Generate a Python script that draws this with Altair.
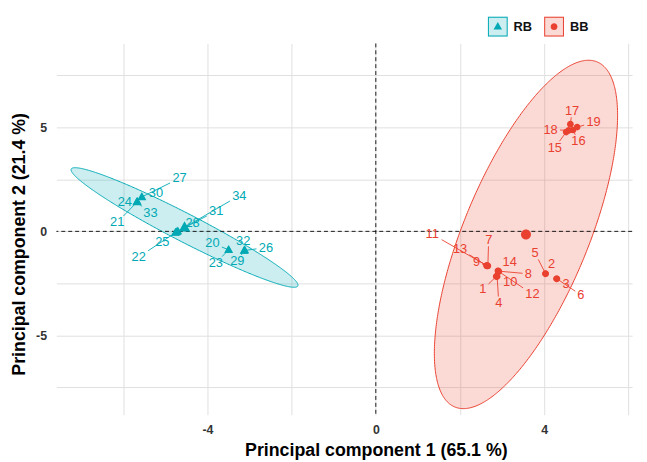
import altair as alt
import numpy as np
import pandas as pd

# ---------------- data ----------------
ids_bb = [str(i) for i in range(1, 20)]
pc1_bb = [2.86, 4.03, 4.29, 2.88, 4.03, 4.30, 2.66, 2.91, 2.64, 2.87, 2.63, 2.92, 2.64, 2.90, 4.52, 4.68, 4.62, 4.58, 4.78]
pc2_bb = [-2.17, -2.04, -2.28, -2.17, -2.03, -2.28, -1.66, -1.91, -1.65, -2.15, -1.64, -1.93, -1.66, -1.90, 4.77, 4.87, 5.15, 4.85, 5.01]
lab1_bb = [2.54, 4.17, 4.52, 2.92, 3.78, 4.87, 2.68, 3.62, 2.39, 3.19, 1.34, 3.72, 2.00, 3.18, 4.25, 4.81, 4.66, 4.15, 5.17]
lab2_bb = [-2.79, -1.57, -2.55, -3.44, -1.04, -3.06, -0.41, -2.04, -1.49, -2.42, -0.14, -3.02, -0.84, -1.47, 4.02, 4.33, 5.79, 4.89, 5.23]

ids_rb = [str(i) for i in range(20, 35)]
pc1_rb = [-3.49, -5.67, -4.76, -3.50, -5.66, -4.73, -3.12, -5.56, -4.70, -3.13, -5.55, -4.72, -3.11, -5.68, -4.75]
pc2_rb = [-0.89, 1.41, -0.07, -0.90, 1.42, -0.04, -0.92, 1.65, 0.00, -0.93, 1.64, -0.02, -0.91, 1.40, -0.05]
lab1_rb = [-3.88, -6.14, -5.63, -3.80, -5.96, -5.07, -2.61, -4.66, -4.35, -3.29, -5.22, -3.79, -3.15, -5.35, -3.24]
lab2_rb = [-0.57, 0.43, -1.23, -1.52, 1.41, -0.49, -0.78, 2.55, 0.38, -1.44, 1.84, 0.98, -0.46, 0.89, 1.72]

groups = ["RB", "BB"]
# confidence ellipse conjugate semi-axes (data units)
ell_u = {"RB": (2.69, -2.81), "BB": (1.69, 8.29)}
ell_v = {"RB": (-0.15, -0.60), "BB": (1.37, -1.15)}

TEAL = "#00A9B4"
RED = "#E9402F"
TEAL_LIGHT = "#CCEEF0"
RED_LIGHT = "#FBD9D5"
FONT = "Liberation Sans"

# symbol glyphs in the unit box (so that legend boxes and glyphs share one size)
TRI = "M0,-0.48L0.43,0.3L-0.43,0.3Z"
CIR = "M-0.34,0A0.34,0.34,0,1,1,0.34,0A0.34,0.34,0,1,1,-0.34,0Z"
RING = "M-1,-1L1,-1L1,1L-1,1Z M-0.9,-0.9L-0.9,0.9L0.9,0.9L0.9,-0.9Z"

# ---------------- layout ----------------
W, H = 583, 376
X_DOM = [-7.585, 6.085]
Y_DOM = [-8.81, 9.03]
kx = W / (X_DOM[1] - X_DOM[0])
ky = H / (Y_DOM[1] - Y_DOM[0])
FS = 13

pts = pd.DataFrame({
    "id": ids_rb + ids_bb,
    "group": ["RB"] * len(ids_rb) + ["BB"] * len(ids_bb),
    "x": pc1_rb + pc1_bb,
    "y": pc2_rb + pc2_bb,
    "lx": lab1_rb + lab1_bb,
    "ly": lab2_rb + lab2_bb,
})

# repel segments: from point to edge of the label box
segs = []
for r in pts.itertuples():
    dxp = (r.x - r.lx) * kx
    dyp = (r.y - r.ly) * ky
    hw = 0.29 * FS * len(r.id) + 2
    hh = 0.5 * FS
    tx = hw / abs(dxp) if dxp != 0 else np.inf
    ty = hh / abs(dyp) if dyp != 0 else np.inf
    t = min(tx, ty)
    if t >= 1:
        continue
    length = (1 - t) * np.hypot(dxp, dyp)
    if length < 5:
        continue
    segs.append({"group": r.group, "x": r.x, "y": r.y,
                 "x2": r.lx + t * (r.x - r.lx), "y2": r.ly + t * (r.y - r.ly)})
segs = pd.DataFrame(segs)

# ellipses as bands (upper / lower boundary for each x)
rows = []
for g in groups:
    sub = pts[pts.group == g]
    cx, cy = sub.x.mean(), sub.y.mean()
    M = np.array([[ell_u[g][0], ell_v[g][0]], [ell_u[g][1], ell_v[g][1]]])
    A = np.linalg.inv(M)
    ext = np.hypot(ell_u[g][0], ell_v[g][0])
    a = A[0, 1] ** 2 + A[1, 1] ** 2
    for s in np.linspace(np.pi, 0, 241):
        dx = ext * np.cos(s)
        b = 2 * (A[0, 0] * A[0, 1] + A[1, 0] * A[1, 1]) * dx
        c = (A[0, 0] ** 2 + A[1, 0] ** 2) * dx ** 2 - 1
        disc = max(b * b - 4 * a * c, 0)
        y1 = (-b - np.sqrt(disc)) / (2 * a)
        y2 = (-b + np.sqrt(disc)) / (2 * a)
        rows.append({"group": g, "x": cx + dx, "ylo": cy + y1, "yhi": cy + y2})
ell = pd.DataFrame(rows)

xs = alt.Scale(domain=X_DOM, nice=False, zero=False)
ys = alt.Scale(domain=Y_DOM, nice=False, zero=False)

col_expr = f"datum.group === 'RB' ? '{TEAL}' : '{RED}'"
shp_expr = f"datum.group === 'RB' ? '{TRI}' : '{CIR}'"

x_axis = alt.Axis(values=[-6, -4, -2, 0, 2, 4, 6],
                  labelExpr="datum.value % 4 == 0 ? '' + datum.value : ''",
                  title="Principal component 1 (65.1 %)", titleX=323.5, titleY=41,
                  titleBaseline="alphabetic", labelPadding=9)
y_axis = alt.Axis(values=[-7.5, -5, -2.5, 0, 2.5, 5, 7.5],
                  labelExpr="datum.value % 5 == 0 ? '' + datum.value : ''",
                  title="Principal component 2 (21.4 %)", titleX=-32, titleY=203,
                  titleAngle=-90, titleBaseline="alphabetic", titleAlign="center",
                  labelPadding=10)

ell_layer = alt.Chart(ell).transform_calculate(col=col_expr).mark_area(
    fillOpacity=0.2, strokeWidth=1
).encode(
    x=alt.X("x:Q", scale=xs, axis=x_axis),
    y=alt.Y("ylo:Q", scale=ys, axis=y_axis),
    y2="yhi:Q",
    fill=alt.Fill("col:N", scale=None),
    stroke=alt.Stroke("col:N", scale=None),
)

# ---- legend: light boxes with labels, plus one glyph legend per group on top ----
LX, LY = 437, -27
COL2 = 57  # offset of the second legend entry (symbol + label offset + "RB" + padding)
common = dict(title=None, orient="none", legendY=LY, direction="horizontal",
              symbolSize=400, symbolStrokeWidth=0, symbolOpacity=1, labelOffset=6,
              columnPadding=12, labelFontSize=13, labelFont=FONT, labelFontWeight="bold",
              padding=0)


def legend_layer(field, rng, legend):
    return alt.Chart(pts).transform_calculate(**{field: "datum.group"}).mark_point(
        opacity=0, size=1, filled=True
    ).encode(
        x=alt.X("x:Q", scale=xs), y=alt.Y("y:Q", scale=ys),
        color=alt.Color(f"{field}:N", sort=groups, scale=alt.Scale(domain=groups, range=rng),
                        legend=legend),
    )


box_layer = legend_layer("g1", [TEAL_LIGHT, RED_LIGHT],
                         alt.Legend(symbolType="square", labelColor="#111111", legendX=LX, **common))
rb_layer = legend_layer("g2", [TEAL, RED],
                        alt.Legend(symbolType=RING + " " + TRI, values=["RB"], labelExpr="''",
                                   legendX=LX, **common))
bb_layer = legend_layer("g3", [TEAL, RED],
                        alt.Legend(symbolType=RING + " " + CIR, values=["BB"], labelExpr="''",
                                   legendX=LX + COL2, **common))

zero = pd.DataFrame({"z": [0]})
hline = alt.Chart(zero).mark_rule(color="black", strokeDash=[4, 3], strokeWidth=0.9).encode(
    y=alt.Y("z:Q", scale=ys))
vline = alt.Chart(zero).mark_rule(color="black", strokeDash=[4, 3], strokeWidth=0.9).encode(
    x=alt.X("z:Q", scale=xs))

seg_layer = alt.Chart(segs).transform_calculate(col=col_expr).mark_rule(strokeWidth=0.9).encode(
    x=alt.X("x:Q", scale=xs), y=alt.Y("y:Q", scale=ys),
    x2="x2:Q", y2="y2:Q",
    color=alt.Color("col:N", scale=None),
)

pt_layer = alt.Chart(pts).transform_calculate(col=col_expr, shp=shp_expr).mark_point(
    filled=True, size=400, opacity=1, strokeWidth=0
).encode(
    x=alt.X("x:Q", scale=xs), y=alt.Y("y:Q", scale=ys),
    color=alt.Color("col:N", scale=None),
    shape=alt.Shape("shp:N", scale=None),
)

mean_layer = alt.Chart(pts).transform_aggregate(
    mx="mean(x)", my="mean(y)", groupby=["group"]
).transform_calculate(
    col=col_expr, shp=shp_expr,
    sz="datum.group === 'RB' ? 720 : 880",
).mark_point(filled=True, opacity=1, strokeWidth=0).encode(
    x=alt.X("mx:Q", scale=xs), y=alt.Y("my:Q", scale=ys),
    color=alt.Color("col:N", scale=None),
    shape=alt.Shape("shp:N", scale=None),
    size=alt.Size("sz:Q", scale=None),
)

text_layer = alt.Chart(pts).transform_calculate(col=col_expr).mark_text(
    fontSize=FS, font=FONT, baseline="middle", align="center"
).encode(
    x=alt.X("lx:Q", scale=xs), y=alt.Y("ly:Q", scale=ys),
    text="id:N",
    color=alt.Color("col:N", scale=None),
)

chart = alt.layer(ell_layer, box_layer, rb_layer, bb_layer, hline, vline, seg_layer,
                  pt_layer, mean_layer, text_layer).resolve_scale(
    color="independent"
).resolve_legend(
    color="independent"
).properties(
    width=W, height=H,
    autosize=alt.AutoSizeParams(type="none"),
    padding={"left": 49, "top": 33, "right": 7, "bottom": 44},
).configure_view(stroke=None).configure_axis(
    domain=False, ticks=False, grid=True, gridColor="#E0E0E0", gridWidth=1,
    labelFont=FONT, labelFontSize=12.5, labelFontWeight="bold", labelColor="#333333",
    titleFont=FONT, titleFontSize=18, titleFontWeight="bold", titleColor="#000000",
)

chart.save("out.html", embed_options={"renderer": "svg", "actions": False})
